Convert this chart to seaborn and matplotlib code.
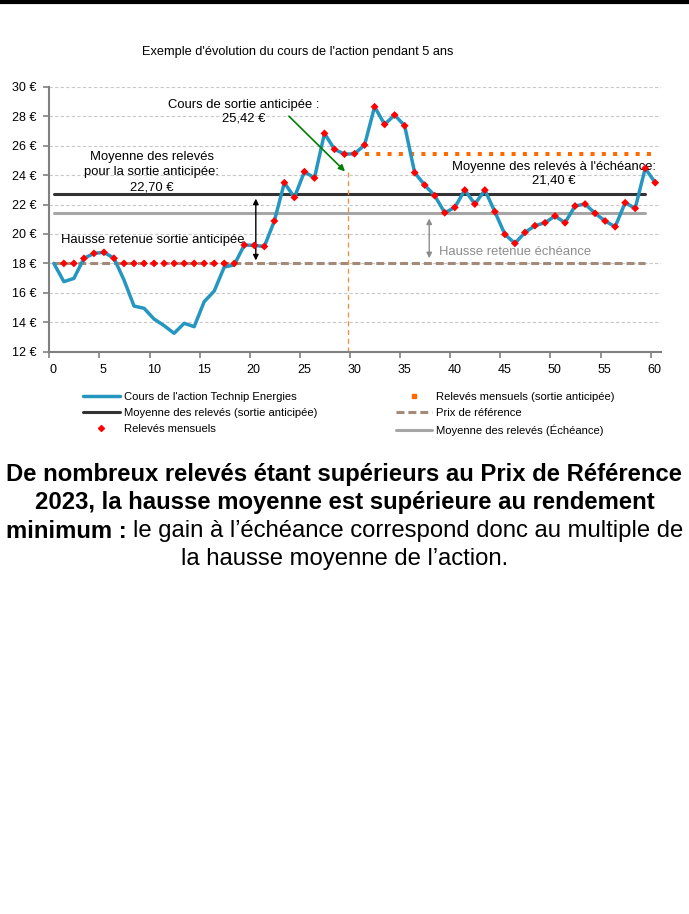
import numpy as np
import pandas as pd
import matplotlib
matplotlib.use("Agg")
import matplotlib.pyplot as plt
import matplotlib.transforms as mtransforms
import seaborn as sns

# monthly observations over 5 years
months = np.arange(61)
cours = [18.0, 16.76, 16.98, 18.34, 18.68, 18.75, 18.35, 16.87, 15.10, 14.95,
         14.22, 13.77, 13.25, 13.93, 13.70, 15.40, 16.12, 17.75, 17.90, 19.25,
         19.22, 19.15, 20.88, 23.48, 22.48, 24.23, 23.80, 26.83, 25.75, 25.42,
         25.45, 26.04, 28.64, 27.44, 28.08, 27.35, 24.16, 23.32, 22.60, 21.44,
         21.80, 22.98, 22.03, 22.98, 21.51, 19.97, 19.36, 20.10, 20.56, 20.76,
         21.22, 20.76, 21.90, 22.03, 21.40, 20.88, 20.49, 22.12, 21.74, 24.46,
         23.48]
releve_months = np.arange(1, 61)
releves = [18.0, 18.0, 18.34, 18.68, 18.75, 18.35, 18.0, 18.0, 18.0, 18.0,
           18.0, 18.0, 18.0, 18.0, 18.0, 18.0, 18.0, 18.0, 19.25, 19.22,
           19.15, 20.88, 23.48, 22.48, 24.23, 23.80, 26.83, 25.75, 25.42, 25.45,
           26.04, 28.64, 27.44, 28.08, 27.35, 24.16, 23.32, 22.60, 21.44, 21.80,
           22.98, 22.03, 22.98, 21.51, 19.97, 19.36, 20.10, 20.56, 20.76, 21.22,
           20.76, 21.90, 22.03, 21.40, 20.88, 20.49, 22.12, 21.74, 24.46, 23.48]
prix_reference = 18.0
moyenne_anticipee = 22.70
moyenne_echeance = 21.40
cours_sortie = 25.42
mois_sortie = 29
sortie_months = np.arange(31, 61)
x_ticks = np.arange(0, 61, 5)
y_ticks = np.arange(12, 31, 2)

labels = ["Cours de l'action Technip Energies",
          "Moyenne des relevés (sortie anticipée)",
          "Relevés mensuels",
          "Relevés mensuels (sortie anticipée)",
          "Prix de référence",
          "Moyenne des relevés (Échéance)"]

BLUE = "#2596C0"
RED = "#FF0000"
DARK = "#333333"
GREY = "#A6A6A6"
BROWN = "#A48A78"
ORANGE = "#FF6A00"

sns.set_style("white")
plt.rcParams["font.family"] = ["Liberation Sans", "DejaVu Sans"]
plt.rcParams["text.color"] = "black"

fig = plt.figure(figsize=(6.89, 9.14), dpi=100)
ax = fig.add_axes([0.0716, 0.6152, 0.8874, 0.2899])

off = 0.45  # points sit slightly right of the tick (category style)
df = pd.DataFrame({"mois": months + off, "cours": cours})
df_rel = pd.DataFrame({"mois": releve_months + off, "releve": releves})
span = [months[0] + off, months[-2] + off]

for y in y_ticks[1:]:
    ax.axhline(y, color="#C8C8C8", lw=0.8, ls=(0, (3, 2)), zorder=0)

h_grey, = ax.plot(span, [moyenne_echeance] * 2, color=GREY, lw=2.2, zorder=2)
h_dark, = ax.plot(span, [moyenne_anticipee] * 2, color=DARK, lw=2.2, zorder=2)
h_brown, = ax.plot(span, [prix_reference] * 2, color=BROWN, lw=2.2,
                   dashes=(2.6, 1.3), zorder=2)
h_orange, = ax.plot(sortie_months + off, [cours_sortie] * len(sortie_months),
                    color=ORANGE, lw=2.9, dashes=(1, 1.8), zorder=2)
ax.plot([mois_sortie + off + 0.35] * 2, [12, 24.2], color="#F58A3A", lw=0.9,
        dashes=(4, 3), zorder=2)

sns.lineplot(data=df, x="mois", y="cours", ax=ax, color=BLUE, lw=2.5, zorder=3)
sns.scatterplot(data=df_rel, x="mois", y="releve", ax=ax, color=RED, marker="D",
                s=16, edgecolor="none", zorder=4)

ax.set_xlim(0, 61)
ax.set_ylim(12, 30)
ax.set_xticks(x_ticks)
ax.set_yticks(y_ticks)
ax.set_yticklabels([f"{v} €" for v in y_ticks])
ax.set_xlabel("")
ax.set_ylabel("")
ax.tick_params(axis="both", labelsize=9, length=4, width=1.2, color="#808080",
               labelcolor="black", direction="out", bottom=True, left=True)
ax.tick_params(axis="x", pad=5)
ax.tick_params(axis="y", pad=5)
shift = mtransforms.ScaledTranslation(4 / 100, 0, fig.dpi_scale_trans)
for lab in ax.get_xticklabels():
    lab.set_transform(lab.get_transform() + shift)
sns.despine(ax=ax)
for s in ["left", "bottom"]:
    ax.spines[s].set_color("#808080")
    ax.spines[s].set_linewidth(1.5)

# annotations
afs = 9.4
ax.text(19.4, 28.3, "Cours de sortie anticipée :\n25,42 €", ha="center",
        va="center", fontsize=afs, linespacing=1.15)
ax.annotate("", xy=(29.5, 24.25), xytext=(23.9, 28.0),
            arrowprops=dict(arrowstyle="-|>", color="#008000", lw=1.2,
                            mutation_scale=9, shrinkA=0, shrinkB=0))
ax.text(10.2, 24.2, "Moyenne des relevés\npour la sortie anticipée:\n22,70 €",
        ha="center", va="center", fontsize=afs, linespacing=1.33)
ax.text(50.3, 24.1, "Moyenne des relevés à l'échéance:\n21,40 €",
        ha="center", va="center", fontsize=afs, linespacing=1.15)
ax.text(1.2, 19.6, "Hausse retenue sortie anticipée", ha="left", va="center",
        fontsize=afs)
ax.text(38.85, 18.8, "Hausse retenue échéance", ha="left", va="center",
        fontsize=afs, color="#8C8C8C")
ax.annotate("", xy=(20.6, prix_reference + 0.2), xytext=(20.6, moyenne_anticipee - 0.3),
            arrowprops=dict(arrowstyle="<|-|>", color="black", lw=1,
                            mutation_scale=8, shrinkA=0, shrinkB=0))
ax.annotate("", xy=(37.9, prix_reference + 0.35), xytext=(37.9, moyenne_echeance - 0.35),
            arrowprops=dict(arrowstyle="<|-|>", color="#8C8C8C", lw=1,
                            mutation_scale=8, shrinkA=0, shrinkB=0))

# legend
h_blue = plt.Line2D([], [], color=BLUE, lw=2.5)
h_red = plt.Line2D([], [], color=RED, marker="D", ms=3, ls="none")
h_osq = plt.Line2D([], [], color=ORANGE, marker="s", ms=3, ls="none")
fig.legend([h_blue, h_dark, h_red, h_osq, h_brown, h_grey], labels, ncol=2,
           loc="center", bbox_to_anchor=(0.5065, 0.5475), frameon=False,
           fontsize=8.1, handlelength=3.25, handletextpad=0.35, columnspacing=7.0,
           labelspacing=0.55)

# title and top bar
fig.text(0.4325, 1 - 52 / 914, "Exemple d'évolution du cours de l'action pendant 5 ans",
         ha="center", va="center", fontsize=9.2)
fig.add_artist(plt.Line2D([0, 1], [1 - 2 / 914] * 2, color="black", lw=3,
                          transform=fig.transFigure))

# bottom text
fs = 17.2
fig.text(0.5, 1 - 474 / 914, "De nombreux relevés étant supérieurs au Prix de Référence",
         ha="center", va="center", fontsize=fs, weight="bold")
fig.text(0.5, 1 - 503 / 914, "2023, la hausse moyenne est supérieure au rendement",
         ha="center", va="center", fontsize=fs, weight="bold")
y3 = 1 - 531 / 914
t1 = fig.text(0, y3, "minimum :", ha="left", va="center", fontsize=fs, weight="bold")
t2 = fig.text(0, y3, "le gain à l’échéance correspond donc au multiple de",
              ha="left", va="center", fontsize=fs)
r = fig.canvas.get_renderer()
w1 = t1.get_window_extent(r).width / fig.bbox.width
w2 = t2.get_window_extent(r).width / fig.bbox.width
gap = 6 / fig.bbox.width
x0 = 0.5 - (w1 + gap + w2) / 2
t1.set_x(x0)
t2.set_x(x0 + w1 + gap)
fig.text(0.5, 1 - 559 / 914, "la hausse moyenne de l’action.",
         ha="center", va="center", fontsize=fs)

fig.savefig("out.png", dpi=100)
